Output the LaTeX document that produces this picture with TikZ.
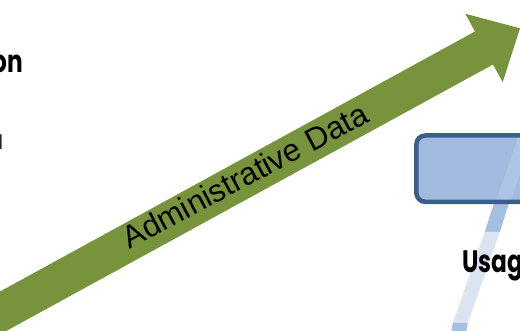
\documentclass[tikz,border=0pt]{standalone}
\usepackage{fontspec}
\newfontfamily\argfont{Liberation Sans}
\newfontfamily\themefont[FakeStretch=0.75]{Poppins}
\definecolor{arrowgreen}{HTML}{77933C}
\definecolor{boxfill}{RGB}{161,186,222}
\definecolor{boxline}{RGB}{58,94,140}
\definecolor{bandlight}{RGB}{219,229,242}
\definecolor{banddark}{RGB}{166,191,225}
\definecolor{bandinbox}{RGB}{174,198,230}
\tikzset{
  bigarrow/.style={fill=arrowgreen, draw=none},
  arrowlabel/.style={font=\argfont\fontsize{31.5}{36}\selectfont, inner sep=0pt, text=black},
  titletext/.style={font=\themefont\bfseries\fontsize{31}{36}\selectfont, inner sep=0pt, text=black},
  bodytext/.style={font=\themefont\fontsize{20}{24}\selectfont, inner sep=0pt, text=black},
}
\begin{document}
\begin{tikzpicture}[x=1pt,y=-1pt]
\useasboundingbox (0,0) rectangle (520,331);
\clip (0,0) rectangle (520,331);

% big green arrow
\path[bigarrow] (-51.3,319.6) -- (475.0,31.5) -- (465.3,13.8) -- (520,28.3)
  -- (502.7,82.2) -- (493.0,64.5) -- (-33.3,352.6) -- cycle;
\node[arrowlabel, rotate=28] (adm) at (245,175.5) {Administrative Data};

% blue box fill
\path[fill=boxfill, rounded corners=9pt] (416.3,135.5) rectangle (560,201.8);
% band inside the box
\begin{scope}
  \clip[rounded corners=9pt] (416.3,135.5) rectangle (560,201.8);
  \fill[bandinbox] (450+0.352*331-0.352*120,120) -- (465+0.352*331-0.352*120,120)
     -- (465+0.352*331-0.352*210,210) -- (450+0.352*331-0.352*210,210) -- cycle;
\end{scope}
% band below the box
\fill[banddark] (494.7,201) -- (509.7,201) -- (499.8,232) -- (484.8,232) -- cycle;
\fill[bandlight] (484.8,232) -- (499.8,232) -- (467.8,323) -- (452.8,323) -- cycle;
\fill[banddark] (452.8,323) -- (467.8,323) -- (464.9,340) -- (449.9,340) -- cycle;
% box border
\draw[draw=boxline, line width=4.5pt, rounded corners=9pt] (416.3,135.5) rectangle (560,201.8);
\node[draw=none] (box) at (488,168.6) {};

% texts
\node[titletext, anchor=base east] (on) at (23.5,73) {on};
\node[bodytext, anchor=base east] (ell) at (3,150) {l};
\node[titletext, anchor=base west] (usage) at (462,273) {Usag};
\end{tikzpicture}
\end{document}
